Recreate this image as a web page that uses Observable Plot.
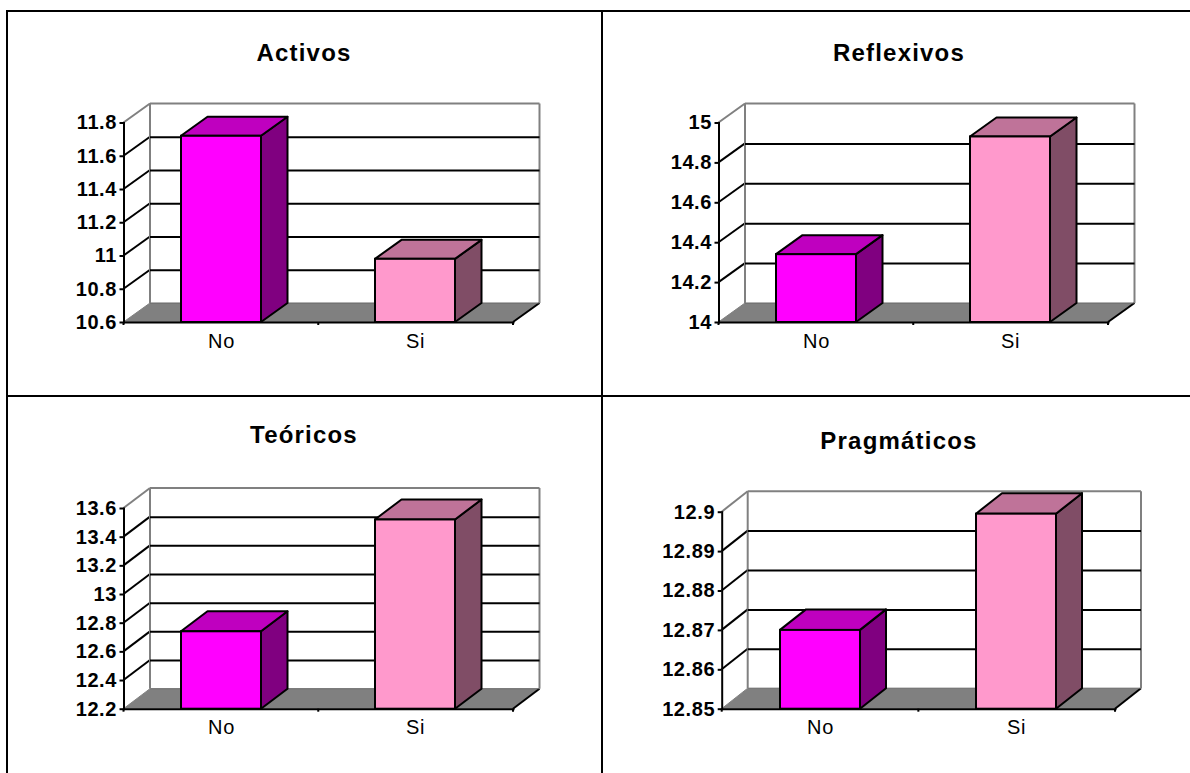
<!DOCTYPE html>
<html>
<head>
<meta charset="utf-8">
<script src="https://cdn.jsdelivr.net/npm/d3@7"></script>
<script src="https://cdn.jsdelivr.net/npm/@observablehq/plot@0.6"></script>
<style>
  html, body { margin: 0; padding: 0; background: #fff; }
  #page { position: relative; width: 1190px; height: 773px; overflow: hidden; font-family: "Liberation Sans", Arial, sans-serif; }
  .line { position: absolute; background: #000; }
  .title { position: absolute; font-weight: bold; font-size: 24px; letter-spacing: 1.2px; text-align: center; transform: translateX(-50%); white-space: nowrap; line-height: 1; }
  .panel { position: absolute; }
  .panel svg text { letter-spacing: 0.6px; }
</style>
</head>
<body>
<div id="page"></div>
<script>
const categories = ["No", "Si"];

const titles = ["Activos", "Reflexivos", "Teóricos", "Pragmáticos"];

const activosValues = [11.72, 10.98];
const reflexivosValues = [14.34, 14.93];
const teoricosValues = [12.74, 13.52];
const pragmaticosValues = [12.87, 12.8995];

const activosTicks = [10.6, 10.8, 11, 11.2, 11.4, 11.6, 11.8];
const reflexivosTicks = [14, 14.2, 14.4, 14.6, 14.8, 15];
const teoricosTicks = [12.2, 12.4, 12.6, 12.8, 13, 13.2, 13.4, 13.6];
const pragmaticosTicks = [12.85, 12.86, 12.87, 12.88, 12.89, 12.9];

const frontColors = ["#FF00FF", "#FF99CC"];
const topColors = ["#BF00BF", "#BF7399"];
const sideColors = ["#800080", "#804D66"];

// layout only: where each panel sits on the page
const layouts = [
  {left: 8, top: 13, axisX: 123.5, endX: 513, axisTop: 122.5, axisBottom: 322, dx: 26.5, dy: -19, titleX: 304, titleY: 41},
  {left: 604, top: 13, axisX: 718.5, endX: 1108, axisTop: 122.5, axisBottom: 322, dx: 26.5, dy: -19, titleX: 899, titleY: 41},
  {left: 8, top: 398, axisX: 123.5, endX: 513, axisTop: 508, axisBottom: 708.7, dx: 26.5, dy: -20, titleX: 304, titleY: 423},
  {left: 604, top: 398, axisX: 721.7, endX: 1115, axisTop: 511.7, axisBottom: 708.7, dx: 26, dy: -20.5, titleX: 899, titleY: 429}
];
const panelW = 578, panelH = 375;

const series = [
  {values: activosValues, ticks: activosTicks},
  {values: reflexivosValues, ticks: reflexivosTicks},
  {values: teoricosValues, ticks: teoricosTicks},
  {values: pragmaticosValues, ticks: pragmaticosTicks}
];

const page = document.getElementById("page");

function addLine(left, top, width, height) {
  const d = document.createElement("div");
  d.className = "line";
  Object.assign(d.style, {left: left + "px", top: top + "px", width: width + "px", height: height + "px"});
  page.appendChild(d);
}
addLine(6, 10, 1184, 2);     // top
addLine(6, 395, 1184, 2);    // middle horizontal
addLine(6, 10, 2, 763);      // left
addLine(601, 10, 2, 763);    // middle vertical

function poly(g, pts, fill, stroke, sw) {
  g.append("polygon")
    .attr("points", pts.map(p => p.join(",")).join(" "))
    .attr("fill", fill)
    .attr("stroke", stroke)
    .attr("stroke-width", sw)
    .attr("stroke-linejoin", "round");
}
function seg(g, a, b, stroke, sw) {
  g.append("line")
    .attr("x1", a[0]).attr("y1", a[1]).attr("x2", b[0]).attr("y2", b[1])
    .attr("stroke", stroke).attr("stroke-width", sw);
}

series.forEach((s, i) => {
  const L = layouts[i];
  const yMin = s.ticks[0], yMax = s.ticks[s.ticks.length - 1];
  const rows = categories.map((c, k) => ({cat: c, value: s.values[k], front: frontColors[k], top: topColors[k], side: sideColors[k]}));

  // floor, back wall and receding grid lines, placed with the y scale
  const wallMark = (index, scales, values, dims) => {
    const g = d3.create("svg:g");
    const y = scales.y;
    const x0 = dims.marginLeft, x1 = dims.width - dims.marginRight;
    const yb = y(yMin), yt = y(yMax);
    const {dx, dy} = L;
    poly(g, [[x0, yb], [x1, yb], [x1 + dx, yb + dy], [x0 + dx, yb + dy]], "#808080", "none", 0);
    s.ticks.slice(1, -1).forEach(t => seg(g, [x0, y(t)], [x0 + dx, y(t) + dy], "#000", 2));
    seg(g, [x0, yt], [x0 + dx, yt + dy], "#808080", 2);
    seg(g, [x0, yb], [x0 + dx, yb + dy], "#808080", 1);
    seg(g, [x1, yb], [x1 + dx, yb + dy], "#000", 2);
    seg(g, [x0 + dx, yb + dy], [x1 + dx, yb + dy], "#666", 1);
    seg(g, [x0 + dx, yt + dy], [x1 + dx, yt + dy], "#808080", 2);
    seg(g, [x0 + dx, yt + dy], [x0 + dx, yb + dy], "#808080", 2);
    seg(g, [x1 + dx, yt + dy], [x1 + dx, yb + dy], "#808080", 2);
    return g.node();
  };

  // top and side faces of each bar
  const facesMark = (index, scales) => {
    const g = d3.create("svg:g");
    const {x, y} = scales;
    const bw = x.bandwidth();
    const {dx, dy} = L;
    rows.forEach(r => {
      const xl = x(r.cat), xr = xl + bw, yv = y(r.value), yb = y(yMin);
      poly(g, [[xr, yv], [xr + dx, yv + dy], [xr + dx, yb + dy], [xr, yb]], r.side, "#000", 2);
      poly(g, [[xl, yv], [xl + dx, yv + dy], [xr + dx, yv + dy], [xr, yv]], r.top, "#000", 2);
    });
    return g.node();
  };

  // small ticks on the category axis, at the band edges
  const xTicksMark = (index, scales, values, dims) => {
    const g = d3.create("svg:g");
    const x0 = dims.marginLeft, x1 = dims.width - dims.marginRight, yb = scales.y(yMin);
    [x0, (x0 + x1) / 2, x1].forEach(px => seg(g, [px, yb], [px, yb + 3], "#000", 2));
    return g.node();
  };

  const chart = Plot.plot({
    width: panelW,
    height: panelH,
    marginLeft: L.axisX - L.left,
    marginRight: panelW - (L.endX - L.left),
    marginTop: L.axisTop - L.top,
    marginBottom: panelH - (L.axisBottom - L.top),
    style: {fontFamily: '"Liberation Sans", Arial, sans-serif', background: "transparent", color: "#000", overflow: "visible"},
    x: {type: "band", domain: categories, paddingInner: 0.59, paddingOuter: 0.295, align: 0.5},
    y: {type: "linear", domain: [yMin, yMax]},
    marks: [
      wallMark,
      Plot.ruleY(s.ticks.slice(1, -1), {stroke: "#000", strokeWidth: 2, dx: L.dx, dy: L.dy}),
      facesMark,
      Plot.barY(rows, {x: "cat", y1: () => yMin, y2: "value", fill: "front", stroke: "#000", strokeWidth: 2}),
      Plot.frame({anchor: "left", stroke: "#000", strokeWidth: 2}),
      Plot.frame({anchor: "bottom", stroke: "#000", strokeWidth: 2}),
      xTicksMark,
      Plot.axisY(s.ticks, {anchor: "left", tickSize: 4, tickPadding: 3, label: null, strokeWidth: 2, tickFormat: d => String(d), fontSize: 20, fontWeight: "bold", fontVariant: "normal"}),
      Plot.axisX({anchor: "bottom", tickSize: 0, tickPadding: 11, label: null, fontSize: 20})
    ]
  });
  const wrap = document.createElement("div");
  wrap.className = "panel";
  wrap.style.left = L.left + "px";
  wrap.style.top = L.top + "px";
  wrap.appendChild(chart);
  page.appendChild(wrap);

  const t = document.createElement("div");
  t.className = "title";
  t.textContent = titles[i];
  t.style.left = L.titleX + "px";
  t.style.top = L.titleY + "px";
  page.appendChild(t);
});
</script>
</body>
</html>
